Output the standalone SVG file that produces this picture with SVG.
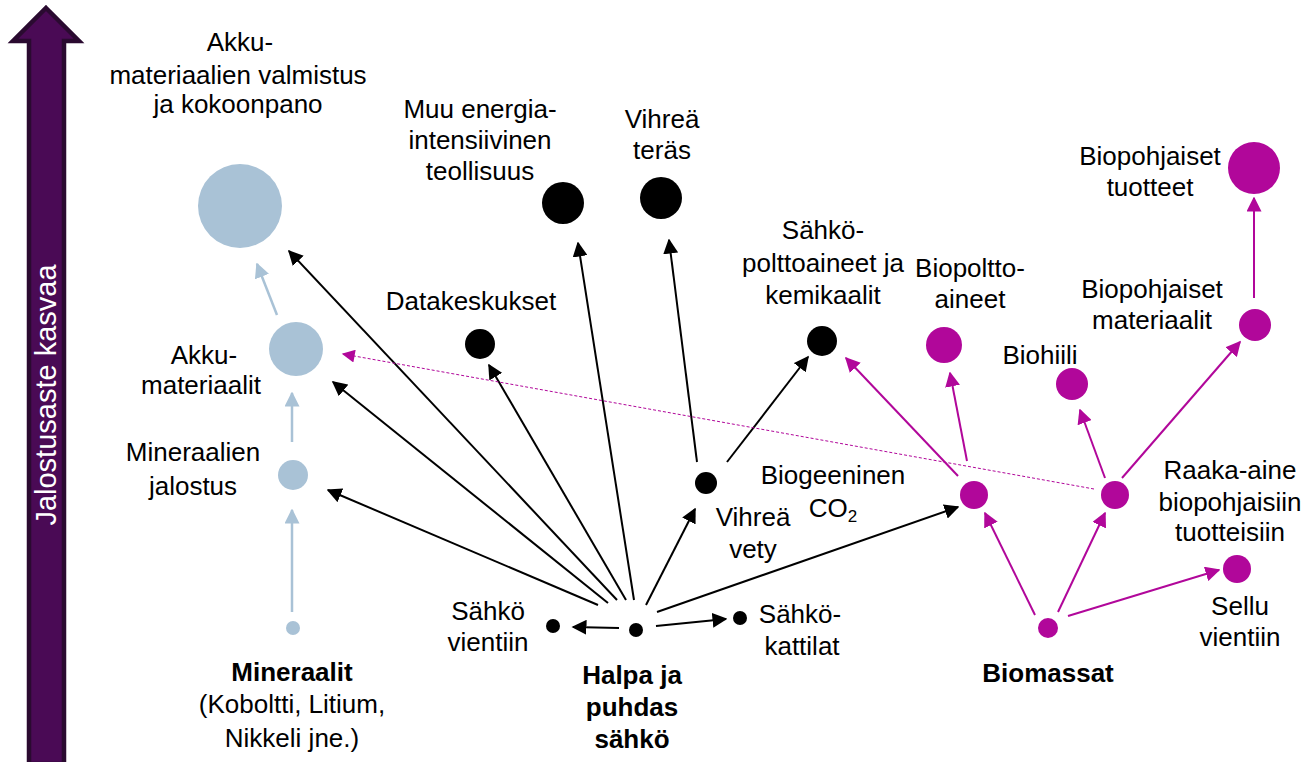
<svg xmlns="http://www.w3.org/2000/svg" width="1307" height="762" viewBox="0 0 1307 762">
<defs>
<marker id="ab" viewBox="0 0 10 10" refX="9" refY="5" markerWidth="7.5" markerHeight="7.5" markerUnits="strokeWidth" orient="auto"><path d="M0,0 L10,5 L0,10 z" fill="#000"/></marker>
<marker id="am" viewBox="0 0 10 10" refX="9" refY="5" markerWidth="7.5" markerHeight="7.5" markerUnits="strokeWidth" orient="auto"><path d="M0,0 L10,5 L0,10 z" fill="#b1079a"/></marker>
<marker id="amd" viewBox="0 0 10 10" refX="9" refY="5" markerWidth="14" markerHeight="13" markerUnits="strokeWidth" orient="auto"><path d="M0,0 L10,5 L0,10 z" fill="#b1079a"/></marker>
<marker id="al" viewBox="0 0 10 10" refX="9" refY="5" markerWidth="6" markerHeight="6" markerUnits="strokeWidth" orient="auto"><path d="M0,0 L10,5 L0,10 z" fill="#a9c2d6"/></marker>
</defs>
<style>
text{font-family:"Liberation Sans",Arial,sans-serif;font-size:26px;fill:#000;text-anchor:middle}
.b{font-weight:bold}
.blue{fill:#a9c2d6}
.blk{fill:#000}
.mag{fill:#b1079a}
.cb{stroke:#000;stroke-width:2;fill:none;marker-end:url(#ab)}
.cm{stroke:#b1079a;stroke-width:2;fill:none;marker-end:url(#am)}
.cl{stroke:#a9c2d6;stroke-width:2.5;fill:none;marker-end:url(#al)}
.cd{stroke:#b1079a;stroke-width:1;stroke-dasharray:3 2;fill:none;marker-end:url(#amd)}
</style>
<g id="axis">
<path d="M46,8 L79,41 L64,41 L64,764 L29,764 L29,41 L13,41 z" fill="#4a0a55" stroke="#2a0a30" stroke-width="4.5" stroke-linejoin="miter"/>
<text transform="translate(56,395) rotate(-90)" style="fill:#fff;font-size:29px">Jalostusaste kasvaa</text>
</g>
<g id="connectors">
<line class="cl" x1="292" y1="612" x2="292" y2="510"/>
<line class="cl" x1="292" y1="442" x2="292" y2="393"/>
<line class="cl" x1="277" y1="315" x2="257" y2="264"/>
<line class="cb" x1="598" y1="605" x2="328" y2="490"/>
<line class="cb" x1="608" y1="603" x2="333" y2="382"/>
<line class="cb" x1="617" y1="600" x2="289" y2="251"/>
<line class="cb" x1="626" y1="600" x2="489" y2="365"/>
<line class="cb" x1="634" y1="600" x2="578" y2="243"/>
<line class="cb" x1="646" y1="605" x2="695" y2="509"/>
<line class="cb" x1="657" y1="612" x2="958" y2="507"/>
<line class="cb" x1="619" y1="628" x2="573" y2="627"/>
<line class="cb" x1="656" y1="626" x2="726" y2="619"/>
<line class="cb" x1="697" y1="462" x2="669" y2="240"/>
<line class="cb" x1="727" y1="462" x2="808" y2="357"/>
<line class="cm" x1="1035" y1="615" x2="985" y2="513"/>
<line class="cm" x1="1058" y1="612" x2="1105" y2="513"/>
<line class="cm" x1="1068" y1="616" x2="1219" y2="570"/>
<line class="cm" x1="958" y1="476" x2="846" y2="358"/>
<line class="cm" x1="967" y1="461" x2="950" y2="373"/>
<line class="cm" x1="1105" y1="478" x2="1080" y2="410"/>
<line class="cm" x1="1122" y1="478" x2="1240" y2="342"/>
<line class="cm" x1="1254" y1="298" x2="1254" y2="198"/>
<line class="cd" x1="1094" y1="489" x2="343" y2="354"/>
</g>
<g id="n-mineraalit"><circle class="blue" cx="293" cy="628" r="7"/>
<text class="b" x="292" y="681">Mineraalit</text><text x="292" y="713">(Koboltti, Litium,</text><text x="292" y="747">Nikkeli jne.)</text></g>
<g id="n-jalostus"><circle class="blue" cx="293" cy="475" r="15"/>
<text x="193" y="461">Mineraalien</text><text x="193" y="495">jalostus</text></g>
<g id="n-akkumat"><circle class="blue" cx="296" cy="349" r="27"/>
<text x="204" y="364">Akku-</text><text x="201" y="394">materiaalit</text></g>
<g id="n-akkuvalm"><circle class="blue" cx="240" cy="206" r="42"/>
<text x="240" y="51">Akku-</text><text x="238" y="84">materiaalien valmistus</text><text x="238" y="113">ja kokoonpano</text></g>
<g id="n-halpa"><circle class="blk" cx="636" cy="630" r="7"/>
<text class="b" x="632" y="684">Halpa ja</text><text class="b" x="632" y="716">puhdas</text><text class="b" x="632" y="748">sähkö</text></g>
<g id="n-vientiin"><circle class="blk" cx="553" cy="626" r="7"/>
<text x="488" y="620">Sähkö</text><text x="488" y="651">vientiin</text></g>
<g id="n-kattilat"><circle class="blk" cx="740" cy="618" r="7"/>
<text x="800" y="623">Sähkö-</text><text x="802" y="655">kattilat</text></g>
<g id="n-vety"><circle class="blk" cx="706" cy="483" r="11"/>
<text x="753" y="526">Vihreä</text><text x="753" y="558">vety</text></g>
<g id="n-data"><circle class="blk" cx="480" cy="344" r="15"/>
<text x="471" y="310">Datakeskukset</text></g>
<g id="n-muu"><circle class="blk" cx="563" cy="203" r="21"/>
<text x="480" y="118">Muu energia-</text><text x="480" y="149">intensiivinen</text><text x="480" y="180">teollisuus</text></g>
<g id="n-teras"><circle class="blk" cx="661" cy="198" r="21"/>
<text x="662" y="128">Vihreä</text><text x="662" y="159">teräs</text></g>
<g id="n-sahkopolt"><circle class="blk" cx="822" cy="341" r="15"/>
<text x="823" y="239">Sähkö-</text><text x="823" y="272">polttoaineet ja</text><text x="823" y="304">kemikaalit</text></g>
<g id="n-biomassat"><circle class="mag" cx="1048" cy="628" r="10"/>
<text class="b" x="1048" y="682">Biomassat</text></g>
<g id="n-co2"><circle class="mag" cx="974" cy="495" r="14"/>
<text x="833" y="484">Biogeeninen</text><text x="833" y="517">CO<tspan style="font-size:17px" dy="5">2</tspan></text></g>
<g id="n-raaka"><circle class="mag" cx="1115" cy="495" r="14"/>
<text x="1230" y="479">Raaka-aine</text><text x="1230" y="511">biopohjaisiin</text><text x="1230" y="541">tuotteisiin</text></g>
<g id="n-sellu"><circle class="mag" cx="1237" cy="569" r="14"/>
<text x="1240" y="615">Sellu</text><text x="1240" y="646">vientiin</text></g>
<g id="n-biopolt"><circle class="mag" cx="944" cy="345" r="18"/>
<text x="970" y="277">Biopoltto-</text><text x="970" y="308">aineet</text></g>
<g id="n-biohiili"><circle class="mag" cx="1072" cy="384" r="16"/>
<text x="1040" y="364">Biohiili</text></g>
<g id="n-biomat"><circle class="mag" cx="1255" cy="325" r="16"/>
<text x="1152" y="298">Biopohjaiset</text><text x="1152" y="329">materiaalit</text></g>
<g id="n-biotuot"><circle class="mag" cx="1254" cy="168" r="26"/>
<text x="1150" y="165">Biopohjaiset</text><text x="1150" y="196">tuotteet</text></g>
</svg>
